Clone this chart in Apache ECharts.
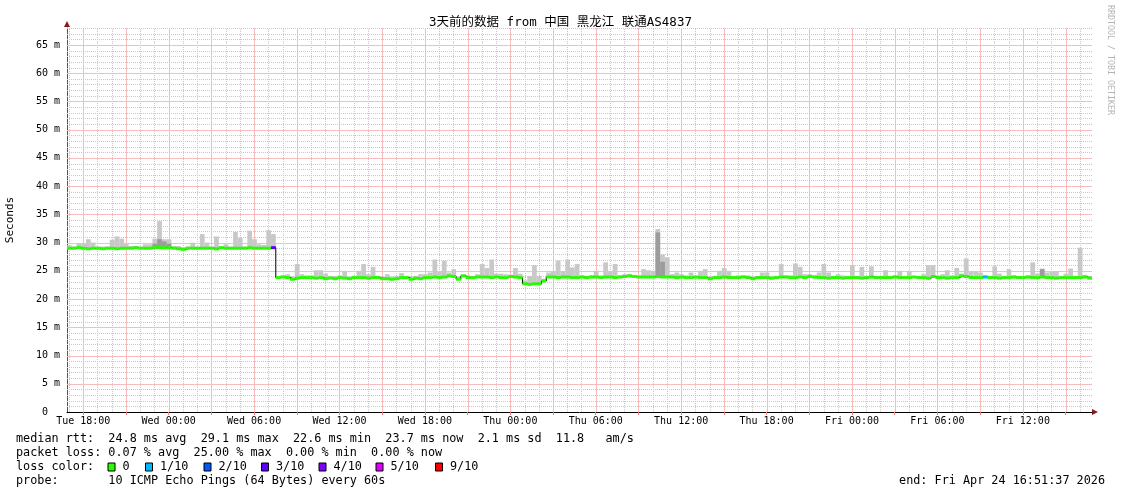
<!DOCTYPE html>
<html>
<head>
<meta charset="utf-8">
<title>3天前的数据 from 中国 黑龙江 联通AS4837</title>
<script src="https://cdn.jsdelivr.net/npm/echarts@6/dist/echarts.min.js"></script>
<style>
  html, body { margin: 0; padding: 0; background: #fff; }
  #chart { width: 1121px; height: 494px; }
</style>
</head>
<body>
<div id="chart"></div>
<script>
// x is hours since Tue 00:00, window = 3 days ending Fri 16:51:37
const startHour = 16 + 51 / 60 + 37 / 3600
const stepHours = 1 / 3 // one sample every 20 min
const spanHours = 72
const yMax = 68

// median rtt per sample (ms), 12 per row
const medianRtt = [
  29.0, 29.0, 29.1, 29.0, 28.9, 29.0, 29.0, 28.9, 29.0, 29.0, 28.9, 29.0,
  29.0, 29.0, 29.1, 29.0, 29.0, 29.0, 29.1, 29.1, 29.1, 29.1, 29.0, 28.9,
  28.8, 29.0, 29.0, 29.0, 29.0, 29.0, 29.0, 28.9, 29.1, 29.0, 29.0, 29.0,
  29.0, 29.0, 29.1, 29.0, 29.0, 29.0, 29.0, 29.1, 23.8, 23.9, 23.8, 23.5,
  23.7, 23.8, 23.8, 23.8, 23.7, 23.8, 23.6, 23.7, 23.6, 23.8, 23.7, 23.6,
  23.8, 23.8, 23.8, 23.7, 23.8, 23.8, 23.6, 23.6, 23.5, 23.6, 23.8, 23.8,
  23.5, 23.7, 23.6, 23.8, 23.8, 23.9, 23.8, 23.9, 24.1, 24.0, 23.5, 24.1,
  23.8, 23.8, 23.9, 23.9, 23.9, 23.8, 23.9, 23.8, 23.8, 24.0, 23.9, 23.8,
  22.7, 22.6, 22.7, 22.7, 23.2, 23.9, 23.9, 23.8, 23.9, 23.9, 23.8, 23.8,
  23.9, 23.8, 23.9, 23.9, 23.8, 23.9, 23.9, 23.8, 23.9, 24.0, 24.1, 24.0,
  23.9, 23.9, 23.9, 23.9, 24.0, 23.9, 23.9, 23.9, 23.8, 23.9, 23.8, 23.8,
  23.9, 23.8, 23.8, 23.6, 23.8, 23.8, 23.9, 23.8, 23.8, 23.8, 23.9, 23.8,
  23.6, 23.8, 23.8, 23.8, 23.7, 23.8, 23.9, 23.9, 23.8, 23.8, 23.9, 23.8,
  24.0, 23.9, 23.8, 23.8, 23.7, 23.8, 23.8, 23.7, 23.8, 23.8, 23.8, 23.7,
  23.8, 23.9, 23.8, 23.8, 23.8, 23.8, 23.9, 23.8, 23.8, 23.8, 23.9, 23.8,
  23.8, 23.7, 24.0, 23.8, 23.8, 23.7, 23.8, 23.8, 24.1, 24.0, 23.8, 23.8,
  23.8, 23.9, 23.8, 23.8, 23.7, 23.8, 23.8, 23.9, 23.8, 23.8, 23.9, 23.8,
  23.8, 23.9, 23.8, 23.8, 23.7, 23.8, 23.8, 23.8, 23.8, 23.8, 23.9, 23.7
]

// highest ping per sample (top of the smoke), ms
const smokeMax = [
  29.5, 29.3, 29.8, 29.8, 30.6, 30.0, 29.3, 29.3, 29.3, 30.5, 31.1, 30.7,
  29.8, 29.4, 29.4, 29.3, 29.7, 29.7, 30.7, 33.8, 30.6, 30.6, 29.4, 29.4,
  29.2, 29.3, 30.0, 29.3, 31.5, 30.0, 29.3, 31.1, 29.4, 29.7, 29.3, 31.9,
  30.8, 29.3, 32.1, 30.6, 29.7, 29.6, 32.2, 31.5, 24.1, 24.2, 24.4, 24.0,
  26.2, 24.4, 24.2, 24.2, 25.1, 25.1, 24.5, 24.1, 24.1, 24.2, 25.0, 24.0,
  24.1, 25.0, 26.2, 24.4, 25.7, 24.1, 24.0, 24.4, 24.0, 24.1, 24.6, 24.1,
  24.0, 24.1, 24.4, 24.4, 24.7, 27.0, 24.9, 26.8, 24.7, 25.3, 24.0, 24.4,
  24.2, 24.1, 24.4, 26.2, 25.5, 27.0, 24.5, 24.5, 24.4, 24.3, 25.5, 24.5,
  23.3, 24.1, 26.0, 24.1, 23.6, 24.7, 24.9, 26.8, 24.9, 27.0, 25.6, 26.2,
  24.2, 24.1, 24.2, 25.0, 24.2, 26.5, 25.0, 26.2, 24.2, 24.4, 24.4, 24.3,
  24.2, 25.3, 25.1, 25.0, 32.4, 27.9, 27.4, 24.4, 24.7, 24.4, 24.2, 24.7,
  24.1, 25.0, 25.3, 24.0, 24.1, 25.0, 25.5, 25.0, 24.1, 24.2, 24.2, 24.2,
  24.0, 24.1, 24.7, 24.7, 24.0, 24.1, 26.2, 24.2, 24.2, 26.3, 25.7, 24.4,
  24.4, 24.2, 24.7, 26.2, 24.7, 24.1, 24.4, 24.2, 24.1, 26.0, 24.1, 25.7,
  24.1, 25.8, 24.1, 24.1, 25.1, 24.1, 24.2, 25.0, 24.1, 25.0, 24.1, 24.1,
  24.4, 26.0, 26.0, 24.2, 24.4, 25.1, 24.2, 25.5, 24.5, 27.2, 24.9, 24.9,
  24.7, 24.2, 24.1, 25.8, 24.5, 24.1, 25.3, 24.2, 24.1, 24.1, 24.2, 26.5,
  24.5, 25.4, 24.7, 24.8, 24.9, 24.1, 24.5, 25.4, 24.1, 29.1, 24.3, 24.1
]

// denser smoke core [sample index, top ms]
const smokeDark = [[18, 29.8], [19, 30.6], [20, 30.2], [21, 29.8], [124, 31.8], [125, 26.6], [205, 25.3]]

// samples with packet loss [sample index, lost of 10]
const lossEvents = [[43, 3], [193, 1]]

const lossLevels = [0, 1, 2, 3, 4, 5, 9]
const lossLabels = ['0', '1/10', '2/10', '3/10', '4/10', '5/10', '9/10']
const lossColors = ['#26ff00', '#00b8ff', '#0059ff', '#5e00ff', '#7e00ff', '#dd00ff', '#ff0000']

const xLabelHours = [18, 24, 30, 36, 42, 48, 54, 60, 66, 72, 78, 84]
const xLabelText = ['Tue 18:00', 'Wed 00:00', 'Wed 06:00', 'Wed 12:00', 'Wed 18:00', 'Thu 00:00',
  'Thu 06:00', 'Thu 12:00', 'Thu 18:00', 'Fri 00:00', 'Fri 06:00', 'Fri 12:00']

const legendLines = [
  'median rtt:  24.8 ms avg  29.1 ms max  22.6 ms min  23.7 ms now  2.1 ms sd  11.8   am/s',
  'packet loss: 0.07 % avg  25.00 % max  0.00 % min  0.00 % now',
  'loss color:',
  'probe:       10 ICMP Echo Pings (64 Bytes) every 60s'
]
const endText = 'end: Fri Apr 24 16:51:37 2026'

const endHour = startHour + spanHours
const t = i => startHour + i * stepHours
const mono = "'DejaVu Sans Mono', monospace"

const lossAt = medianRtt.map(() => 0)
lossEvents.forEach(([i, l]) => { lossAt[i] = l })
const lossColor = l => lossColors[lossLevels.indexOf(l)]

const smokeData = medianRtt.map((m, i) => [t(i), t(i + 1), m, smokeMax[i]])
const darkData = smokeDark.map(([i, top]) => [t(i), t(i + 1), medianRtt[i], top])
const medianData = medianRtt.map((m, i) => [t(i), t(i + 1), m, lossAt[i]])
const stepData = medianRtt.map((m, i) => [t(i), m]).concat([[endHour, medianRtt[medianRtt.length - 1]]])

// grid lines: minor (1 h / 1 ms) and major (3 h / 5 ms), kept apart
const minorLines = []
const majorLines = []
const majorHours = []
for (let h = Math.ceil(startHour); h < endHour; h++) {
  if (h % 3 === 0) { majorLines.push({ vertical: true, pos: h }); majorHours.push(h) }
  else minorLines.push({ vertical: true, pos: h })
}
for (let v = 1; v <= yMax; v++) {
  if (v % 5 === 0) majorLines.push({ vertical: false, pos: v })
  else minorLines.push({ vertical: false, pos: v })
}

function smokeRenderer(fill) {
  return (params, api) => {
    const a = api.coord([api.value(0), api.value(2)])
    const b = api.coord([api.value(1), api.value(3)])
    return {
      type: 'rect',
      shape: { x: a[0], y: Math.min(a[1], b[1]), width: b[0] - a[0], height: Math.abs(a[1] - b[1]) },
      style: { fill }
    }
  }
}

function gridRenderer(lines, stroke, dash) {
  return (params, api) => {
    const g = lines[params.dataIndex]
    const a = g.vertical ? api.coord([g.pos, 0]) : api.coord([startHour, g.pos])
    const b = g.vertical ? api.coord([g.pos, yMax]) : api.coord([endHour, g.pos])
    const shape = g.vertical
      ? { x1: Math.round(a[0]) + 0.5, y1: Math.round(a[1]), x2: Math.round(a[0]) + 0.5, y2: Math.round(b[1]) }
      : { x1: Math.round(a[0]), y1: Math.round(a[1]) + 0.5, x2: Math.round(b[0]), y2: Math.round(a[1]) + 0.5 }
    const style = { stroke, lineWidth: 1 }
    if (dash) style.lineDash = dash
    return { type: 'line', shape, style }
  }
}

const chart = echarts.init(document.getElementById('chart'))

const grid = { left: 67, right: 29, top: 28, bottom: 82, outerBoundsMode: 'none', containLabel: false }
const gx0 = grid.left
const gx1 = 1121 - grid.right
const gy1 = 494 - grid.bottom
const gy0 = grid.top

const legendY = [439, 453, 467, 481]
const boxX = [108, 145.5, 204, 261.5, 319, 376, 435.5]

const graphics = [
  { type: 'polygon', shape: { points: [[gx0, gy0 - 7], [gx0 - 3, gy0 - 1], [gx0 + 3, gy0 - 1]] }, style: { fill: '#8b1a1a' } },
  { type: 'polygon', shape: { points: [[gx1 + 6, gy1], [gx1, gy1 - 3], [gx1, gy1 + 3]] }, style: { fill: '#8b1a1a' } },
  {
    type: 'text', x: 1110, y: 5, rotation: -Math.PI / 2,
    style: { text: 'RRDTOOL / TOBI OETIKER', font: '8.3px ' + mono, fill: '#b4b4b4', textAlign: 'left', textVerticalAlign: 'middle' }
  },
  {
    type: 'text', x: 1105, y: legendY[3],
    style: { text: endText, font: '11.8px ' + mono, fill: '#000', textAlign: 'right', textVerticalAlign: 'middle' }
  }
]
legendLines.forEach((line, k) => {
  graphics.push({
    type: 'text', x: 16, y: legendY[k],
    style: { text: line, font: '11.8px ' + mono, fill: '#000', textAlign: 'left', textVerticalAlign: 'middle' }
  })
})
lossLabels.forEach((lab, k) => {
  graphics.push({
    type: 'rect', shape: { x: boxX[k], y: legendY[2] - 4, width: 7, height: 8 },
    style: { fill: lossColors[k], stroke: '#000', lineWidth: 1 }
  })
  graphics.push({
    type: 'text', x: boxX[k] + 14.5, y: legendY[2],
    style: { text: lab, font: '11.8px ' + mono, fill: '#000', textAlign: 'left', textVerticalAlign: 'middle' }
  })
})

const option = {
  backgroundColor: '#fff',
  animation: false,
  title: {
    text: '3天前的数据 from 中国 黑龙江 联通AS4837',
    left: 'center',
    top: 11,
    textStyle: { fontFamily: "'DejaVu Sans Mono', 'Noto Sans CJK SC'", fontSize: 12.5, fontWeight: 'normal', color: '#000' }
  },
  grid,
  xAxis: {
    type: 'value', min: startHour, max: endHour,
    axisLine: { show: true, lineStyle: { color: '#000', width: 1 } },
    axisTick: { show: true, interval: 0, length: 3, customValues: majorHours, lineStyle: { color: '#f08080' } },
    axisLabel: {
      customValues: xLabelHours,
      interval: 0,
      margin: 4,
      fontFamily: mono, fontSize: 10, color: '#000',
      formatter: v => xLabelText[xLabelHours.indexOf(Math.round(v))]
    },
    splitLine: { show: false }
  },
  yAxis: {
    type: 'value', min: 0, max: yMax, interval: 5,
    name: 'Seconds', nameLocation: 'middle', nameGap: 51, nameRotate: 90,
    nameTextStyle: { fontFamily: mono, fontSize: 11, color: '#000' },
    axisLine: { show: true, lineStyle: { color: '#555' } },
    axisTick: { show: false },
    axisLabel: {
      margin: 7, fontFamily: mono, fontSize: 10, color: '#000', showMaxLabel: false,
      formatter: v => (v === 0 ? '0  ' : (v % 5 === 0 ? v + ' m' : ''))
    },
    splitLine: { show: false }
  },
  series: [
    {
      name: 'minor grid', type: 'custom', renderItem: gridRenderer(minorLines, '#c8c8c8', [1, 1]),
      data: minorLines.map(g => [g.pos, g.pos]), silent: true, z: 1
    },
    {
      name: 'major grid', type: 'custom', renderItem: gridRenderer(majorLines, '#f7bcbc', null),
      data: majorLines.map(g => [g.pos, g.pos]), silent: true, z: 1
    },
    {
      name: 'smoke', type: 'custom', renderItem: smokeRenderer('#c8c8c8'),
      encode: { x: [0, 1], y: [2, 3] }, data: smokeData, silent: true, z: 2
    },
    {
      name: 'smoke core', type: 'custom', renderItem: smokeRenderer('#9c9c9c'),
      encode: { x: [0, 1], y: [2, 3] }, data: darkData, silent: true, z: 3
    },
    {
      name: 'median step', type: 'line', step: 'end', symbol: 'none',
      lineStyle: { color: '#000', width: 1 }, data: stepData, silent: true, z: 4
    },
    {
      name: 'median rtt', type: 'custom', z: 5,
      renderItem: (params, api) => {
        const a = api.coord([api.value(0), api.value(2)])
        const b = api.coord([api.value(1), api.value(2)])
        return {
          type: 'line',
          shape: { x1: a[0], y1: a[1], x2: b[0], y2: b[1] },
          style: { stroke: lossColor(api.value(3)), lineWidth: 3 }
        }
      },
      encode: { x: [0, 1], y: 2 }, data: medianData, silent: true
    }
  ],
  graphic: graphics
}

chart.setOption(option)
</script>
</body>
</html>
